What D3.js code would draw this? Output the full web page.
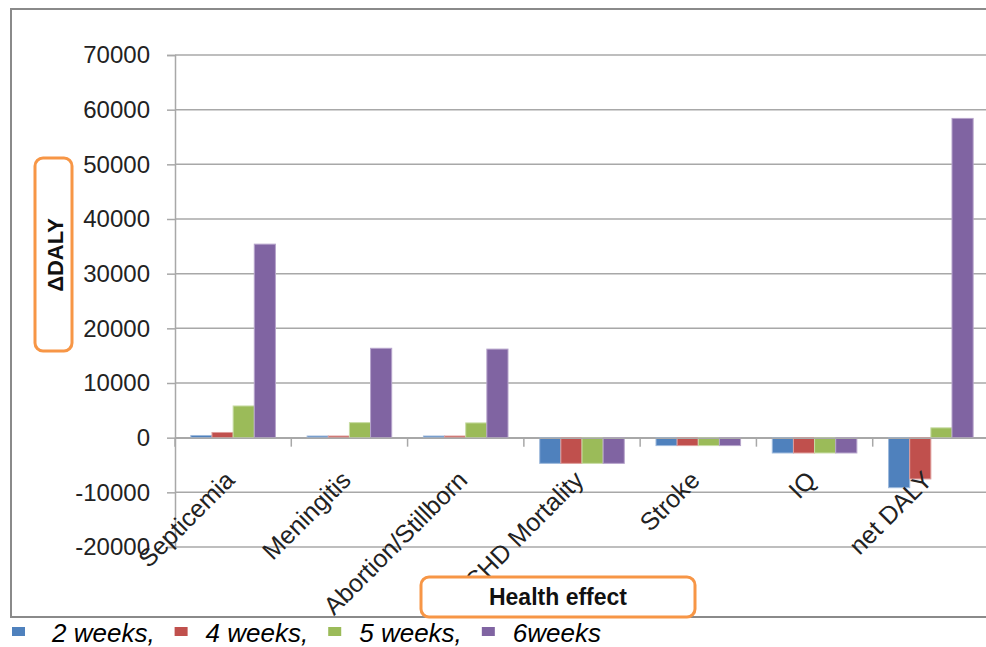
<!DOCTYPE html>
<html>
<head>
<meta charset="utf-8">
<script src="https://cdn.jsdelivr.net/npm/d3@7"></script>
<style>
  html, body { margin: 0; padding: 0; background: #ffffff; }
  svg { display: block; }
</style>
</head>
<body>
<svg id="chart" width="986" height="647"></svg>
<script>
// Change in DALY per health effect, by outbreak duration
const categories = ["Septicemia", "Meningitis", "Abortion/Stillborn", "CHD Mortality", "Stroke", "IQ", "net DALY"];
const seriesNames = ["2 weeks,", "4 weeks,", "5 weeks,", "6weeks"];
const weeks2 = [400, 300, 300, -4700, -1450, -2800, -9150];
const weeks4 = [950, 300, 300, -4700, -1450, -2800, -7550];
const weeks5 = [5800, 2750, 2700, -4700, -1450, -2800, 1800];
const weeks6 = [35400, 16350, 16200, -4700, -1450, -2800, 58400];
const yTicks = [-20000, -10000, 0, 10000, 20000, 30000, 40000, 50000, 60000, 70000];
const colors = ["#4F81BD", "#C0504D", "#9BBB59", "#8064A2"];
const edgeColors = ["#9DB9DC", "#DE9C9A", "#C8DCA5", "#B6A4CB"];

const seriesValues = [weeks2, weeks4, weeks5, weeks6];

const svg = d3.select("#chart");
const font = "'Liberation Sans', Arial, sans-serif";

// outer chart frame (right side runs past the page edge)
svg.append("rect")
  .attr("x", 11).attr("y", 9)
  .attr("width", 1000).attr("height", 608)
  .attr("fill", "#ffffff")
  .attr("stroke", "#8a8a8a").attr("stroke-width", 2);

const plot = { left: 175, right: 989, top: 55, bottom: 547 };

const y = d3.scaleLinear().domain([-20000, 70000]).range([plot.bottom, plot.top]);
const x0 = d3.scaleBand().domain(categories).range([plot.left, plot.right]).paddingInner(0).paddingOuter(0);
const x1 = d3.scaleBand().domain(seriesNames).range([0, x0.bandwidth()]).paddingInner(0).paddingOuter(0.75);

// horizontal gridlines
svg.append("g")
  .selectAll("line")
  .data(yTicks)
  .join("line")
  .attr("x1", plot.left).attr("x2", plot.right)
  .attr("y1", d => y(d)).attr("y2", d => y(d))
  .attr("stroke", "#a8a8a8").attr("stroke-width", 1.5);

// value axis (plain hyphen for negatives)
const yAxis = d3.axisLeft(y).tickValues(yTicks).tickSize(8).tickPadding(17).tickFormat(d => String(d));
const yg = svg.append("g").attr("transform", `translate(${plot.left},0)`).call(yAxis);
yg.select(".domain").attr("stroke", "#a8a8a8").attr("stroke-width", 1.5);
yg.selectAll(".tick line").attr("stroke", "#a8a8a8").attr("stroke-width", 1.5);
yg.selectAll(".tick text")
  .attr("font-family", font).attr("font-size", 24).attr("fill", "#222");

// bars
const rows = categories.map((c, i) => ({ c, vals: seriesValues.map((s, j) => ({ key: seriesNames[j], j, v: s[i] })) }));
svg.append("g")
  .selectAll("g")
  .data(rows)
  .join("g")
  .attr("transform", d => `translate(${x0(d.c)},0)`)
  .selectAll("rect")
  .data(d => d.vals)
  .join("rect")
  .attr("x", d => x1(d.key))
  .attr("width", x1.bandwidth())
  .attr("y", d => y(Math.max(0, d.v)))
  .attr("height", d => Math.abs(y(d.v) - y(0)))
  .attr("fill", d => colors[d.j])
  .attr("stroke", d => edgeColors[d.j])
  .attr("stroke-width", 1);

// category axis along zero
const xAxis = d3.axisBottom(x0).tickSize(0).tickFormat("");
const xg = svg.append("g").attr("transform", `translate(0,${y(0)})`).call(xAxis);
xg.select(".domain").attr("stroke", "#a8a8a8").attr("stroke-width", 1.5);
const bounds = categories.map(c => x0(c)).concat([plot.right]);
xg.selectAll("line.cat-tick")
  .data(bounds)
  .join("line")
  .attr("class", "cat-tick")
  .attr("x1", d => d).attr("x2", d => d)
  .attr("y1", 0).attr("y2", 9)
  .attr("stroke", "#a8a8a8").attr("stroke-width", 1.5);

// rotated category labels
svg.append("g")
  .selectAll("text")
  .data(categories)
  .join("text")
  .attr("transform", d => `translate(${x0(d) + x0.bandwidth() / 2 + 3},${y(0) + 44}) rotate(-45)`)
  .attr("text-anchor", "end")
  .attr("font-family", font).attr("font-size", 25).attr("fill", "#222")
  .text(d => d);

// axis title boxes
function titleBox(x, yTop, w, h) {
  svg.append("rect")
    .attr("x", x).attr("y", yTop).attr("width", w).attr("height", h)
    .attr("rx", 8).attr("ry", 8)
    .attr("fill", "#ffffff")
    .attr("stroke", "#F79646").attr("stroke-width", 3);
}
titleBox(35, 158, 37, 193);
svg.append("text")
  .attr("transform", "translate(63,255) rotate(-90)")
  .attr("text-anchor", "middle")
  .attr("font-family", font).attr("font-weight", "bold").attr("font-size", 22).attr("fill", "#111")
  .text("ΔDALY");

titleBox(421, 577, 274, 40);
svg.append("text")
  .attr("x", 558).attr("y", 605)
  .attr("text-anchor", "middle")
  .attr("font-family", font).attr("font-weight", "bold").attr("font-size", 23).attr("fill", "#111")
  .text("Health effect");

// legend below the frame
const legend = svg.append("g");
let lx = 12;
seriesNames.forEach((name, j) => {
  legend.append("rect")
    .attr("x", lx).attr("y", 627).attr("width", 13).attr("height", 9)
    .attr("fill", colors[j]);
  const t = legend.append("text")
    .attr("x", lx + 40 - (j > 0 ? 9 : 0)).attr("y", 642)
    .attr("font-family", font).attr("font-style", "italic").attr("font-size", 26).attr("fill", "#000")
    .text(name);
  const tx = +t.attr("x");
  lx = tx + t.node().getComputedTextLength() + 20;
});
</script>
</body>
</html>
